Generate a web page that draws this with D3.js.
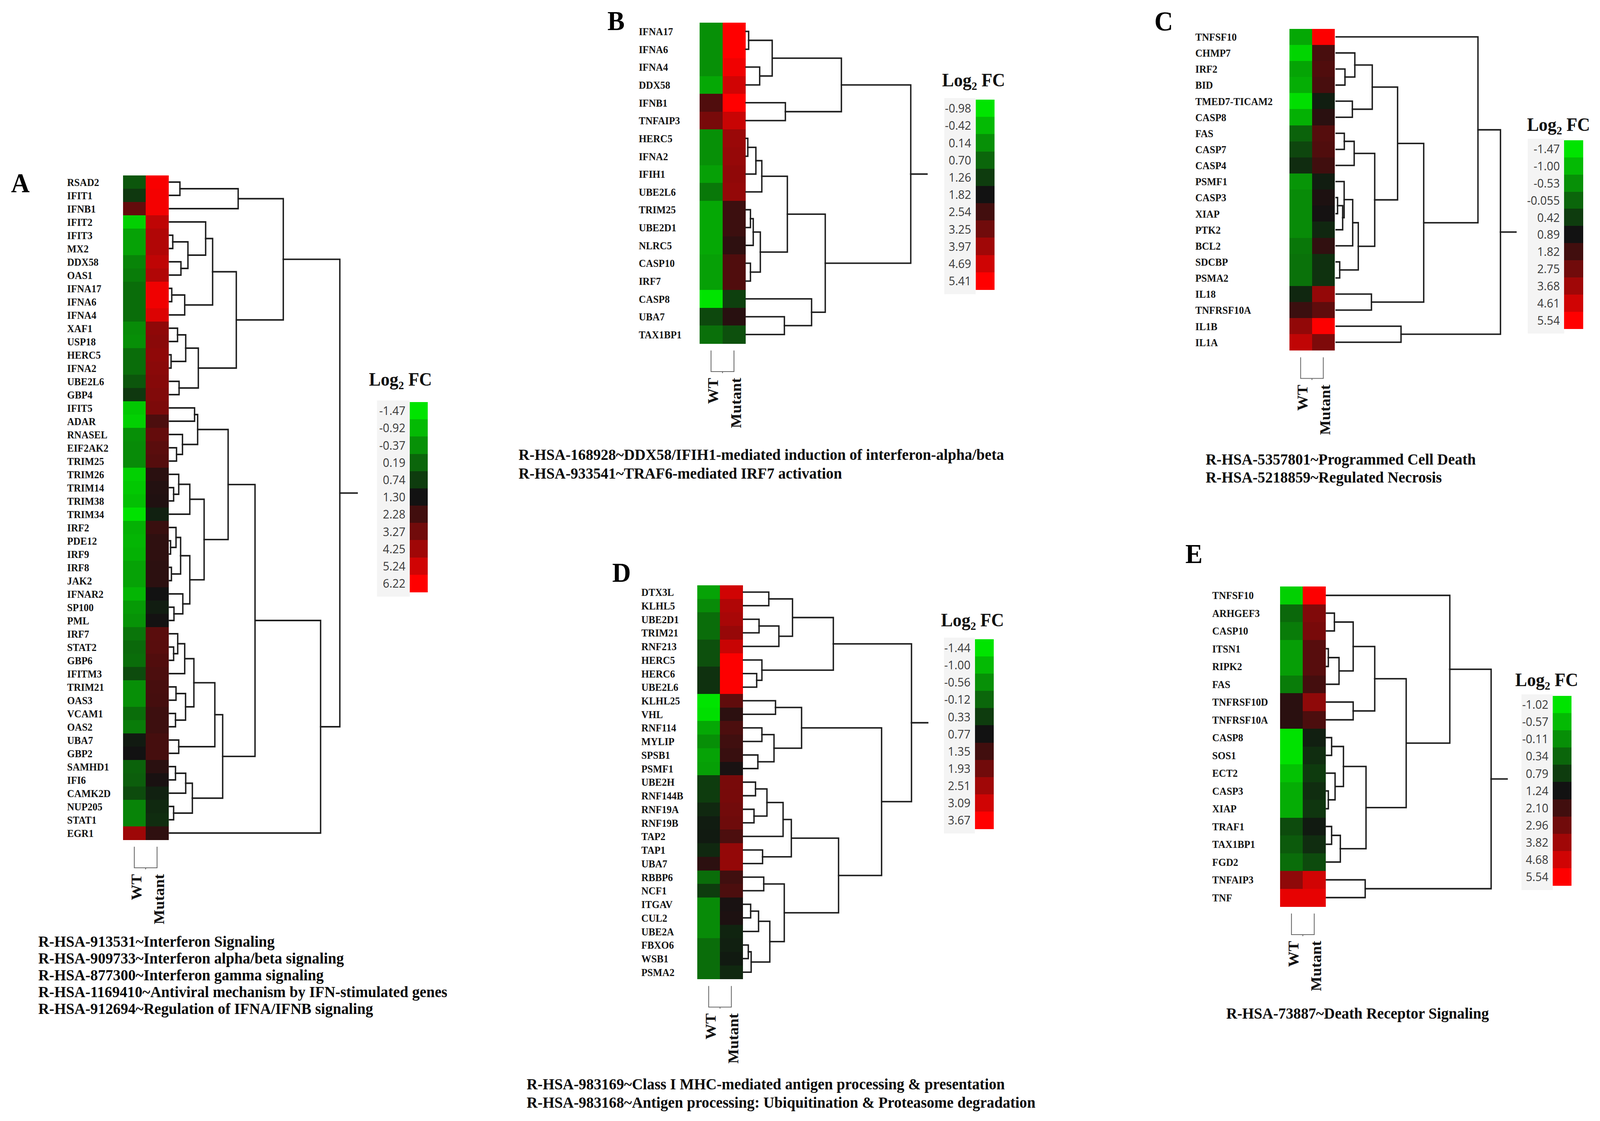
<!DOCTYPE html>
<html><head><meta charset="utf-8">
<script src="https://cdn.jsdelivr.net/npm/d3@7"></script>
<style>html,body{margin:0;padding:0;background:#fff;overflow:hidden;width:100%;height:100%}svg{display:block;width:100vw;height:100vh}</style>
</head><body><svg id="c" viewBox="0 0 4341 2869" preserveAspectRatio="none"></svg>
<script>
// ---------------- DATA ----------------
const samples = ["WT", "Mutant"];

// Panel A
const genesA = ["RSAD2","IFIT1","IFNB1","IFIT2","IFIT3","MX2","DDX58","OAS1","IFNA17","IFNA6","IFNA4","XAF1","USP18","HERC5","IFNA2","UBE2L6","GBP4","IFIT5","ADAR","RNASEL","EIF2AK2","TRIM25","TRIM26","TRIM14","TRIM38","TRIM34","IRF2","PDE12","IRF9","IRF8","JAK2","IFNAR2","SP100","PML","IRF7","STAT2","GBP6","IFITM3","TRIM21","OAS3","VCAM1","OAS2","UBA7","GBP2","SAMHD1","IFI6","CAMK2D","NUP205","STAT1","EGR1"];
const wtA = [0.4,0.8,3.0,-1.2,-0.6,-0.6,-0.2,-0.1,0.1,0.1,0.1,-0.3,-0.35,0.1,0.1,0.4,0.8,-1.1,-1.2,-0.35,-0.3,-0.3,-1.2,-1.1,-1.0,-1.45,-0.8,-0.85,-0.8,-0.6,-0.6,-0.85,-0.5,-0.4,0.0,0.15,0.1,0.55,-0.35,-0.35,0.1,-0.1,1.2,1.3,0.25,0.3,0.55,-0.2,-0.2,4.2];
const mutA = [6.1,6.0,6.0,4.9,4.6,4.6,4.9,4.6,5.9,5.9,5.5,3.9,3.8,3.9,3.8,3.7,3.6,3.5,2.5,3.0,2.8,2.7,1.8,1.65,1.6,1.1,2.1,1.9,1.9,1.85,1.85,1.3,1.15,1.35,2.8,2.75,2.6,2.5,2.4,2.35,2.2,2.2,2.35,2.35,1.8,1.45,1.1,1.0,0.95,1.9];
const legendA = ["-1.47","-0.92","-0.37","0.19","0.74","1.30","2.28","3.27","4.25","5.24","6.22"];
const captionA = ["R-HSA-913531~Interferon Signaling","R-HSA-909733~Interferon alpha/beta signaling","R-HSA-877300~Interferon gamma signaling","R-HSA-1169410~Antiviral mechanism by IFN-stimulated genes","R-HSA-912694~Regulation of IFNA/IFNB signaling"];
// dendrogram: [child, child, mergeHeight]
const treeA = [
  [[["RSAD2","IFIT1",6.1],"IFNB1",40.3],
   [[["IFIT2",[["IFIT3","MX2",1.9],["DDX58","OAS1",6.7],10.8],21.2],[["IFNA17","IFNA6",1.3],"IFNA4",8.9],25.3],
    [[["XAF1","USP18",4.7],["HERC5","IFNA2",0.9],9.5],["UBE2L6","GBP4",5.6],16.9],
    39.2],
   66.8],
  [
   [
    [
     [["IFIT5","ADAR",14.7],["RNASEL",["EIF2AK2","TRIM25",4.1],7.6],16.5],
     [
      [["TRIM26",["TRIM14","TRIM38",2.4],5.4],"TRIM34",11.9],
      [[["IRF2",["PDE12","IRF9",0.6],3.8],["IRF8","JAK2",1.1],6.5],["IFNAR2",["SP100","PML",2.6],7.8],11.9],
      20.3],
     34.4],
    [
     [
      [[["IRF7",["STAT2","GBP6",2.4],4.8],"IFITM3",8.9],[["TRIM21","OAS3",3.8],["VCAM1","OAS2",3.5],9.4],14.3],
      ["UBA7","GBP2",5.4],
      26.6],
     [[["SAMHD1","IFI6",3.5],"CAMK2D",9.5],["NUP205","STAT1",2.4],13.4],
     31.2],
    50.2],
   "EGR1",
   88.7],
  100];

// Panel B
const genesB = ["IFNA17","IFNA6","IFNA4","DDX58","IFNB1","TNFAIP3","HERC5","IFNA2","IFIH1","UBE2L6","TRIM25","UBE2D1","NLRC5","CASP10","IRF7","CASP8","UBA7","TAX1BP1"];
const wtB = [0.14,0.14,0.14,-0.18,2.76,3.36,0.14,0.14,-0.07,0.46,-0.18,-0.18,-0.18,-0.07,-0.07,-0.98,1.1,0.57];
const mutB = [5.41,5.41,5.18,4.7,5.41,4.58,3.88,3.82,3.73,3.79,2.46,2.46,2.24,2.76,2.76,1.21,2.15,0.99];
const legendB = ["-0.98","-0.42","0.14","0.70","1.26","1.82","2.54","3.25","3.97","4.69","5.41"];
const captionB = ["R-HSA-168928~DDX58/IFIH1-mediated induction of interferon-alpha/beta","R-HSA-933541~TRAF6-mediated IRF7 activation"];
const treeB = [
  [[["IFNA17","IFNA6",1.6],["IFNA4","DDX58",8.3],15.9],["IFNB1","TNFAIP3",23.9],57.9],
  [[[[["HERC5","IFNA2",1.1],"IFIH1",6.0],"UBE2L6",9.6],[[["TRIM25","UBE2D1",2.7],"NLRC5",4.4],["CASP10","IRF7",2.7],8.7],25.1],
   ["CASP8",["UBA7","TAX1BP1",23.3],39.8],
   48.1],
  100];

// Panel C
const genesC = ["TNFSF10","CHMP7","IRF2","BID","TMED7-TICAM2","CASP8","FAS","CASP7","CASP4","PSMF1","CASP3","XIAP","PTK2","BCL2","SDCBP","PSMA2","IL18","TNFRSF10A","IL1B","IL1A"];
const wtC = [-0.8,-1.3,-0.75,-0.86,-1.4,-0.9,-0.02,0.31,0.6,-0.58,-0.47,-0.47,-0.47,-0.25,-0.19,-0.19,0.65,1.7,3.4,4.3];
const mutC = [5.5,1.95,2.1,1.95,0.75,1.36,2.2,2.1,1.8,0.77,1.1,0.95,0.65,1.5,0.55,0.53,3.45,2.4,5.5,3.0];
const legendC = ["-1.47","-1.00","-0.53","-0.055","0.42","0.89","1.82","2.75","3.68","4.61","5.54"];
const captionC = ["R-HSA-5357801~Programmed Cell Death","R-HSA-5218859~Regulated Necrosis"];
const treeC = [
  ["TNFSF10",
   [[[["CHMP7",["IRF2","BID",5.4],11.4],["TMED7-TICAM2","CASP8",9.9],22.0],
     [[["FAS","CASP7",5.0],"CASP4",11.0],[[["PSMF1",[["CASP3","XIAP",0.9],"PTK2",4.0],4.9],"BCL2",10.1],["SDCBP","PSMA2",2.2],13.5],23.5],
     37.4],
    ["IL18","TNFRSF10A",21.5],
    53.3],
   86.3],
  ["IL1B","IL1A",39.5],
  100];

// Panel D
const genesD = ["DTX3L","KLHL5","UBE2D1","TRIM21","RNF213","HERC5","HERC6","UBE2L6","KLHL25","VHL","RNF114","MYLIP","SPSB1","PSMF1","UBE2H","RNF144B","RNF19A","RNF19B","TAP2","TAP1","UBA7","RBBP6","NCF1","ITGAV","CUL2","UBE2A","FBXO6","WSB1","PSMA2"];
const wtD = [-0.76,-0.5,-0.19,-0.19,0.12,0.12,0.44,0.44,-1.44,-1.39,-0.81,-0.55,-0.76,-0.71,0.33,0.33,0.54,0.67,0.69,0.54,1.09,-0.19,0.33,-0.5,-0.5,-0.5,-0.19,-0.19,-0.19];
const mutD = [3.1,2.7,2.6,2.4,3.0,3.65,3.65,3.65,1.72,1.09,1.48,1.33,1.24,0.85,2.02,2.0,1.95,1.9,1.48,2.36,2.36,1.33,1.48,0.85,0.9,0.58,0.62,0.69,0.54];
const legendD = ["-1.44","-1.00","-0.56","-0.12","0.33","0.77","1.35","1.93","2.51","3.09","3.67"];
const captionD = ["R-HSA-983169~Class I MHC-mediated antigen processing & presentation","R-HSA-983168~Antigen processing: Ubiquitination & Proteasome degradation"];
const treeD = [
  [[["DTX3L","KLHL5",15.1],[["UBE2D1","TRIM21",9.3],"RNF213",21.1],29.2],["HERC5",["HERC6","UBE2L6",7.9],11.0],53.5],
  [
   [["KLHL25","VHL",19.1],[["RNF114","MYLIP",11.0],["SPSB1","PSMF1",8.6],18.2],34.6],
   [
    [[[["UBE2H","RNF144B",7.2],["RNF19A","RNF19B",6.3],14.0],"TAP2",23.6],["TAP1","UBA7",11.4],28.5],
    [["RBBP6","NCF1",12.1],[[["ITGAV","CUL2",4.3],"UBE2A",9.0],[["FBXO6","WSB1",2.9],"PSMA2",4.6],15.7],24.3],
    56.6],
   82.2],
  100];

// Panel E
const genesE = ["TNFSF10","ARHGEF3","CASP10","ITSN1","RIPK2","FAS","TNFRSF10D","TNFRSF10A","CASP8","SOS1","ECT2","CASP3","XIAP","TRAF1","TAX1BP1","FGD2","TNFAIP3","TNF"];
const wtE = [-0.8,0.31,0.1,-0.27,-0.27,0.1,1.68,1.68,-1.0,-1.0,-0.65,-0.43,-0.43,0.63,0.47,0.26,3.5,5.1];
const mutE = [5.5,3.24,3.09,2.5,2.5,2.15,3.5,2.3,1.1,0.95,0.8,0.95,0.85,1.15,0.95,0.63,4.7,5.1];
const legendE = ["-1.02","-0.57","-0.11","0.34","0.79","1.24","2.10","2.96","3.82","4.68","5.54"];
const captionE = ["R-HSA-73887~Death Receptor Signaling"];
const treeE = [
  ["TNFSF10",
   [[[["ARHGEF3","CASP10",4.8],[["ITSN1","RIPK2",1.1],"FAS",7.6],16.2],["TNFRSF10D","TNFRSF10A",16.2],29.3],
    [[["CASP8","SOS1",3.1],["ECT2",["CASP3","XIAP",1.1],5.2],10.3],[["TRAF1","TAX1BP1",3.1],"FGD2",8.4],24.0],
    48.4],
   74.9],
  ["TNFAIP3","TNF",23.5],
  100];

// ---------------- LAYOUT ----------------
const SERIF = "'Liberation Serif','Times New Roman',serif";
const SANS = "'Open Sans','Noto Sans',sans-serif";

const panels = [
  {letter:"A", genes:genesA, wt:wtA, mut:mutA, legend:legendA, tree:treeA, caption:captionA,
   lx:30, ly:492, labelX:182, hx:333.5, colW:61.75, hy0:449, hy1:2149, leafX:460, rootX:922, stubX:969,
   tX:1001, tY:987, barX:1112, barW:48, barY0:1029, barY1:1515, bgX:1023, capX:104, capY:2423, capDY:43},
  {letter:"B", genes:genesB, wt:wtB, mut:mutB, legend:legendB, tree:treeB, caption:captionB,
   lx:1648, ly:77, labelX:1733, hx:1898, colW:62.25, hy0:57.6, hy1:879, leafX:2024, rootX:2471, stubX:2515,
   tX:2556, tY:221, barX:2647, barW:51, barY0:255, barY1:741, bgX:2562, capX:1407, capY:1177, capDY:48},
  {letter:"C", genes:genesC, wt:wtC, mut:mutC, legend:legendC, tree:treeC, caption:captionC,
   lx:3132, ly:78, labelX:3243, hx:3498, colW:61.5, hy0:73.8, hy1:896.5, leafX:3625, rootX:4071, stubX:4113,
   tX:4143, tY:335, barX:4244, barW:51, barY0:359, barY1:841.5, bgX:4145, capX:3271, capY:1189, capDY:46},
  {letter:"D", genes:genesD, wt:wtD, mut:mutD, legend:legendD, tree:treeD, caption:captionD,
   lx:1661, ly:1489, labelX:1740, hx:1892, colW:61.5, hy0:1498, hy1:2505.5, leafX:2017, rootX:2473, stubX:2517,
   tX:2553, tY:1603, barX:2645, barW:51, barY0:1636, barY1:2121, bgX:2561, capX:1429, capY:2788, capDY:47},
  {letter:"E", genes:genesE, wt:wtE, mut:mutE, legend:legendE, tree:treeE, caption:captionE,
   lx:3216, ly:1441, labelX:3289, hx:3473, colW:61.8, hy0:1501, hy1:2320, leafX:3599, rootX:4045.6, stubX:4089,
   tX:4111, tY:1756, barX:4213, barW:51, barY0:1781, barY1:2266, bgX:4128, capX:3327, capY:2607, capDY:46}
];

const svg = d3.select("#c");
svg.append("rect").attr("width",4341).attr("height",2869).attr("fill","#fff");

function toNode(a){
  if (typeof a === "string") return {name:a, h:0};
  return {h:a[a.length-1], children:a.slice(0,-1).map(toNode)};
}

function drawPanel(p){
  const g = svg.append("g");
  const n = p.genes.length;
  const yS = d3.scaleBand().domain(d3.range(n)).range([p.hy0, p.hy1]);
  const xS = d3.scaleBand().domain(samples).range([p.hx, p.hx + 2*p.colW]);
  const lv = p.legend.map(Number);
  const color = d3.scaleLinear().domain([lv[0], lv[5], lv[10]])
    .range(["#00e400","#121212","#ff0000"]).clamp(true);

  const cells = [];
  p.genes.forEach((gn,i)=>{
    cells.push({i, s:samples[0], v:p.wt[i]});
    cells.push({i, s:samples[1], v:p.mut[i]});
  });
  g.append("g").selectAll("rect").data(cells).join("rect")
    .attr("x", d=>xS(d.s)).attr("y", d=>yS(d.i))
    .attr("width", xS.bandwidth()+0.6).attr("height", yS.bandwidth()+0.6)
    .attr("fill", d=>color(d.v)).attr("shape-rendering","crispEdges");

  g.append("g").selectAll("text").data(p.genes).join("text")
    .attr("x", p.labelX).attr("y", (d,i)=>yS(i)+yS.bandwidth()/2)
    .attr("dy","0.36em")
    .style("font-family", SERIF).style("font-weight","bold").style("font-size","27px")
    .attr("fill","#141414").text(d=>d);

  const idx = new Map(p.genes.map((d,i)=>[d,i]));
  const root = d3.hierarchy(toNode(p.tree));
  if (root.leaves().length !== n) throw new Error("leaf count mismatch " + p.letter);
  const hS = d3.scaleLinear().domain([0,100]).range([p.leafX, p.rootX]);
  root.eachAfter(nd=>{
    nd.px = hS(nd.data.h);
    if (nd.children) nd.py = d3.mean(nd.children, c=>c.py);
    else {
      const i = idx.get(nd.data.name);
      if (i === undefined) throw new Error("unknown leaf " + nd.data.name);
      nd.py = yS(i) + yS.bandwidth()/2;
    }
  });
  const tg = g.append("g").attr("fill","none").attr("stroke","#1e1e1e").attr("stroke-width",3.8).attr("stroke-linecap","square");
  tg.selectAll("path").data(root.links()).join("path")
    .attr("d", l=>`M${l.target.px},${l.target.py}H${l.source.px}V${l.source.py}`);
  tg.append("path").attr("d", `M${root.px},${root.py}H${p.stubX}`);

  const c0 = xS(samples[0]) + xS.bandwidth()/2, c1 = xS(samples[1]) + xS.bandwidth()/2;
  const bt = p.hy1 + 18, bb = p.hy1 + 72;
  g.append("path").attr("d", `M${c0},${bt}V${bb}H${c1}V${bt}M${(c0+c1)/2},${bb}v4`)
    .attr("fill","none").attr("stroke","#666").attr("stroke-width",2.2);
  g.append("g").selectAll("text").data(samples).join("text")
    .attr("transform", (d,i)=>`translate(${(i?c1:c0)+5},${bb+16}) rotate(-90)`)
    .attr("text-anchor","end").attr("dominant-baseline","central")
    .style("font-family", SERIF).style("font-weight","bold").style("font-size","40px")
    .attr("fill","#111").text(d=>d);

  const lg = g.append("g");
  const lY = d3.scaleBand().domain(d3.range(lv.length)).range([p.barY0, p.barY1]);
  lg.append("rect").attr("x", p.bgX).attr("y", p.barY0-4).attr("width", p.barX - p.bgX)
    .attr("height", p.barY1 - p.barY0 + 16).attr("fill","#f4f4f4");
  lg.selectAll("rect.sw").data(lv).join("rect").attr("class","sw")
    .attr("x", p.barX).attr("y",(d,i)=>lY(i)).attr("width", p.barW).attr("height", lY.bandwidth()+0.6)
    .attr("fill", d=>color(d)).attr("shape-rendering","crispEdges");
  lg.selectAll("text.lab").data(p.legend).join("text").attr("class","lab")
    .attr("x", p.barX - 12).attr("y",(d,i)=>lY(i)+lY.bandwidth()/2).attr("dy","0.36em")
    .attr("text-anchor","end").style("font-family", SANS).style("font-size","31px")
    .attr("fill","#3a3a3a").text(d=>d);
  const tt = lg.append("text").attr("x", p.tX).attr("y", p.tY)
    .style("font-family", SERIF).style("font-weight","bold").style("font-size","48px").attr("fill","#111");
  tt.append("tspan").text("Log");
  tt.append("tspan").attr("dy", 9).style("font-size","30px").text("2");
  tt.append("tspan").attr("dy", -9).text(" FC");

  g.append("text").attr("x", p.lx).attr("y", p.ly)
    .style("font-family", SERIF).style("font-weight","bold").style("font-size","70px")
    .attr("fill","#000").text(p.letter);

  g.append("g").selectAll("text").data(p.caption).join("text")
    .attr("x", p.capX).attr("y",(d,i)=>p.capY + i*p.capDY)
    .style("font-family", SERIF).style("font-weight","bold").style("font-size","41px")
    .attr("fill","#0a0a0a").text(d=>d);
}

panels.forEach(drawPanel);
</script>
</body></html>
